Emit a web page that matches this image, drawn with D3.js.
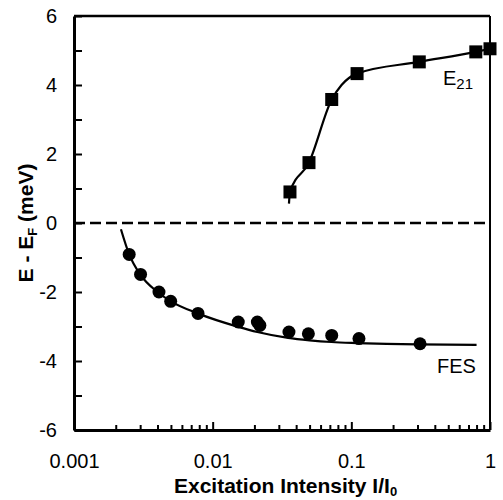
<!DOCTYPE html>
<html>
<head>
<meta charset="utf-8" />
<title>E - EF vs excitation intensity</title>
<script src="https://cdnjs.cloudflare.com/ajax/libs/d3/7.8.5/d3.min.js"></script>
<style>
	body { margin: 0; background: #fff; }
	svg text { font-family: "Liberation Sans", Arial, sans-serif; fill: #000; }
	.tick text { font-size: 20px; }
	.axis-title { font-size: 21px; font-weight: bold; }
	.series-label { font-size: 20px; }
</style>
</head>
<body>
<svg id="chart" width="503" height="500"></svg>
<script>
// FES points (circles)
const fesX = [0.0025, 0.00302, 0.0041, 0.00498, 0.00784, 0.0153, 0.021, 0.0219, 0.0355, 0.049, 0.0722, 0.1135, 0.313];
const fesY = [-0.91, -1.49, -2.0, -2.27, -2.62, -2.87, -2.87, -2.97, -3.16, -3.21, -3.26, -3.35, -3.5];
// FES fit curve
const fesFitX = [0.00218, 0.0025, 0.003, 0.004, 0.005, 0.0078, 0.0153, 0.021, 0.035, 0.05, 0.072, 0.11, 0.3, 0.8];
const fesFitY = [-0.18, -0.91, -1.49, -2.0, -2.27, -2.62, -3.01, -3.16, -3.33, -3.40, -3.45, -3.48, -3.52, -3.53];
// E21 points (squares)
const e21X = [0.0361, 0.0495, 0.0722, 0.110, 0.309, 0.79, 1.0];
const e21Y = [0.90, 1.75, 3.58, 4.33, 4.67, 4.96, 5.05];
// E21 fit curve
const e21FitX = [0.0355, 0.0361, 0.0495, 0.0722, 0.085, 0.110, 0.309, 0.79, 1.0];
const e21FitY = [0.56, 0.90, 1.75, 3.58, 4.0, 4.33, 4.67, 4.96, 5.05];
// ticks
const xMajor = [0.001, 0.01, 0.1, 1];
const xMajorLabels = ["0.001", "0.01", "0.1", "1"];
const yTicks = [-6, -5, -4, -3, -2, -1, 0, 1, 2, 3, 4, 5, 6];

const svg = d3.select("#chart");
const mLeft = 74, mRight = 490, mTop = 16, mBottom = 430;

const x = d3.scaleLog().domain([0.001, 1]).range([mLeft, mRight]);
const y = d3.scaleLinear().domain([-6, 6]).range([mBottom, mTop]);

// minor x ticks 2..9 in each decade
let xMinor = [];
for (let dec = 0.001; dec < 1; dec *= 10) {
	for (let k = 2; k <= 9; k++) xMinor.push(+(dec * k).toPrecision(3));
}

// frame: top and right
svg.append("line").attr("x1", mLeft).attr("x2", mRight).attr("y1", mTop).attr("y2", mTop)
	.attr("stroke", "#000").attr("stroke-width", 2.5);
svg.append("line").attr("x1", mRight).attr("x2", mRight).attr("y1", mTop).attr("y2", mBottom)
	.attr("stroke", "#000").attr("stroke-width", 2);

// minor x ticks (no labels)
svg.append("g")
	.attr("transform", `translate(0,${mBottom})`)
	.call(d3.axisBottom(x).tickValues(xMinor).tickSize(-5).tickSizeOuter(0).tickFormat(""))
	.call(g => g.select(".domain").remove())
	.selectAll("line").attr("stroke-width", 2);

// major x ticks
svg.append("g")
	.attr("transform", `translate(0,${mBottom})`)
	.call(d3.axisBottom(x).tickValues(xMajor).tickSize(-8).tickSizeOuter(0).tickPadding(24)
		.tickFormat((d, i) => xMajorLabels[i]))
	.call(g => g.select(".domain").attr("stroke-width", 3))
	.call(g => g.selectAll("line").attr("stroke-width", 2))
	.call(g => g.selectAll("text").style("font-size", "20px"));

// y axis
svg.append("g")
	.attr("transform", `translate(${mLeft},0)`)
	.call(d3.axisLeft(y).tickValues(yTicks).tickSize(-8).tickSizeOuter(0).tickPadding(17)
		.tickFormat(d => d % 2 === 0 ? String(d) : ""))
	.call(g => g.select(".domain").attr("stroke-width", 3))
	.call(g => g.selectAll("line").attr("stroke-width", 2))
	.call(g => g.selectAll("text").style("font-size", "20px"));

// dashed zero line
svg.append("line")
	.attr("x1", mLeft).attr("x2", mRight).attr("y1", y(0)).attr("y2", y(0))
	.attr("stroke", "#000").attr("stroke-width", 2.5).attr("stroke-dasharray", "11,5");

const line = d3.line().x(d => x(d[0])).y(d => y(d[1])).curve(d3.curveMonotoneX);

svg.append("path")
	.datum(fesFitX.map((v, i) => [v, fesFitY[i]]))
	.attr("d", line).attr("fill", "none").attr("stroke", "#000").attr("stroke-width", 2.2);
svg.append("path")
	.datum(e21FitX.map((v, i) => [v, e21FitY[i]]))
	.attr("d", line).attr("fill", "none").attr("stroke", "#000").attr("stroke-width", 2.2);

svg.append("g").selectAll("circle")
	.data(fesX.map((v, i) => [v, fesY[i]]))
	.join("circle")
	.attr("cx", d => x(d[0])).attr("cy", d => y(d[1])).attr("r", 6.5).attr("fill", "#000");

const sq = 13;
svg.append("g").selectAll("rect")
	.data(e21X.map((v, i) => [v, e21Y[i]]))
	.join("rect")
	.attr("x", d => x(d[0]) - sq / 2).attr("y", d => y(d[1]) - sq / 2)
	.attr("width", sq).attr("height", sq).attr("fill", "#000");

// series labels
const e21Label = svg.append("text").attr("class", "series-label").attr("x", 443).attr("y", 85);
e21Label.append("tspan").text("E");
e21Label.append("tspan").attr("dy", 4).style("font-size", "15px").text("21");

svg.append("text").attr("class", "series-label").attr("x", 437).attr("y", 373).text("FES");

// axis titles
const xTitle = svg.append("text").attr("class", "axis-title")
	.attr("x", 174).attr("y", 493);
xTitle.append("tspan").text("Excitation Intensity I/I");
xTitle.append("tspan").attr("dy", 3).style("font-size", "13px").text("0");

const yTitle = svg.append("text").attr("class", "axis-title")
	.attr("transform", `translate(33,${y(0)}) rotate(-90)`).attr("text-anchor", "middle");
yTitle.append("tspan").text("E - E");
yTitle.append("tspan").attr("dy", 4).style("font-size", "13px").text("F");
yTitle.append("tspan").attr("dy", -4).text(" (meV)");
</script>
</body>
</html>
